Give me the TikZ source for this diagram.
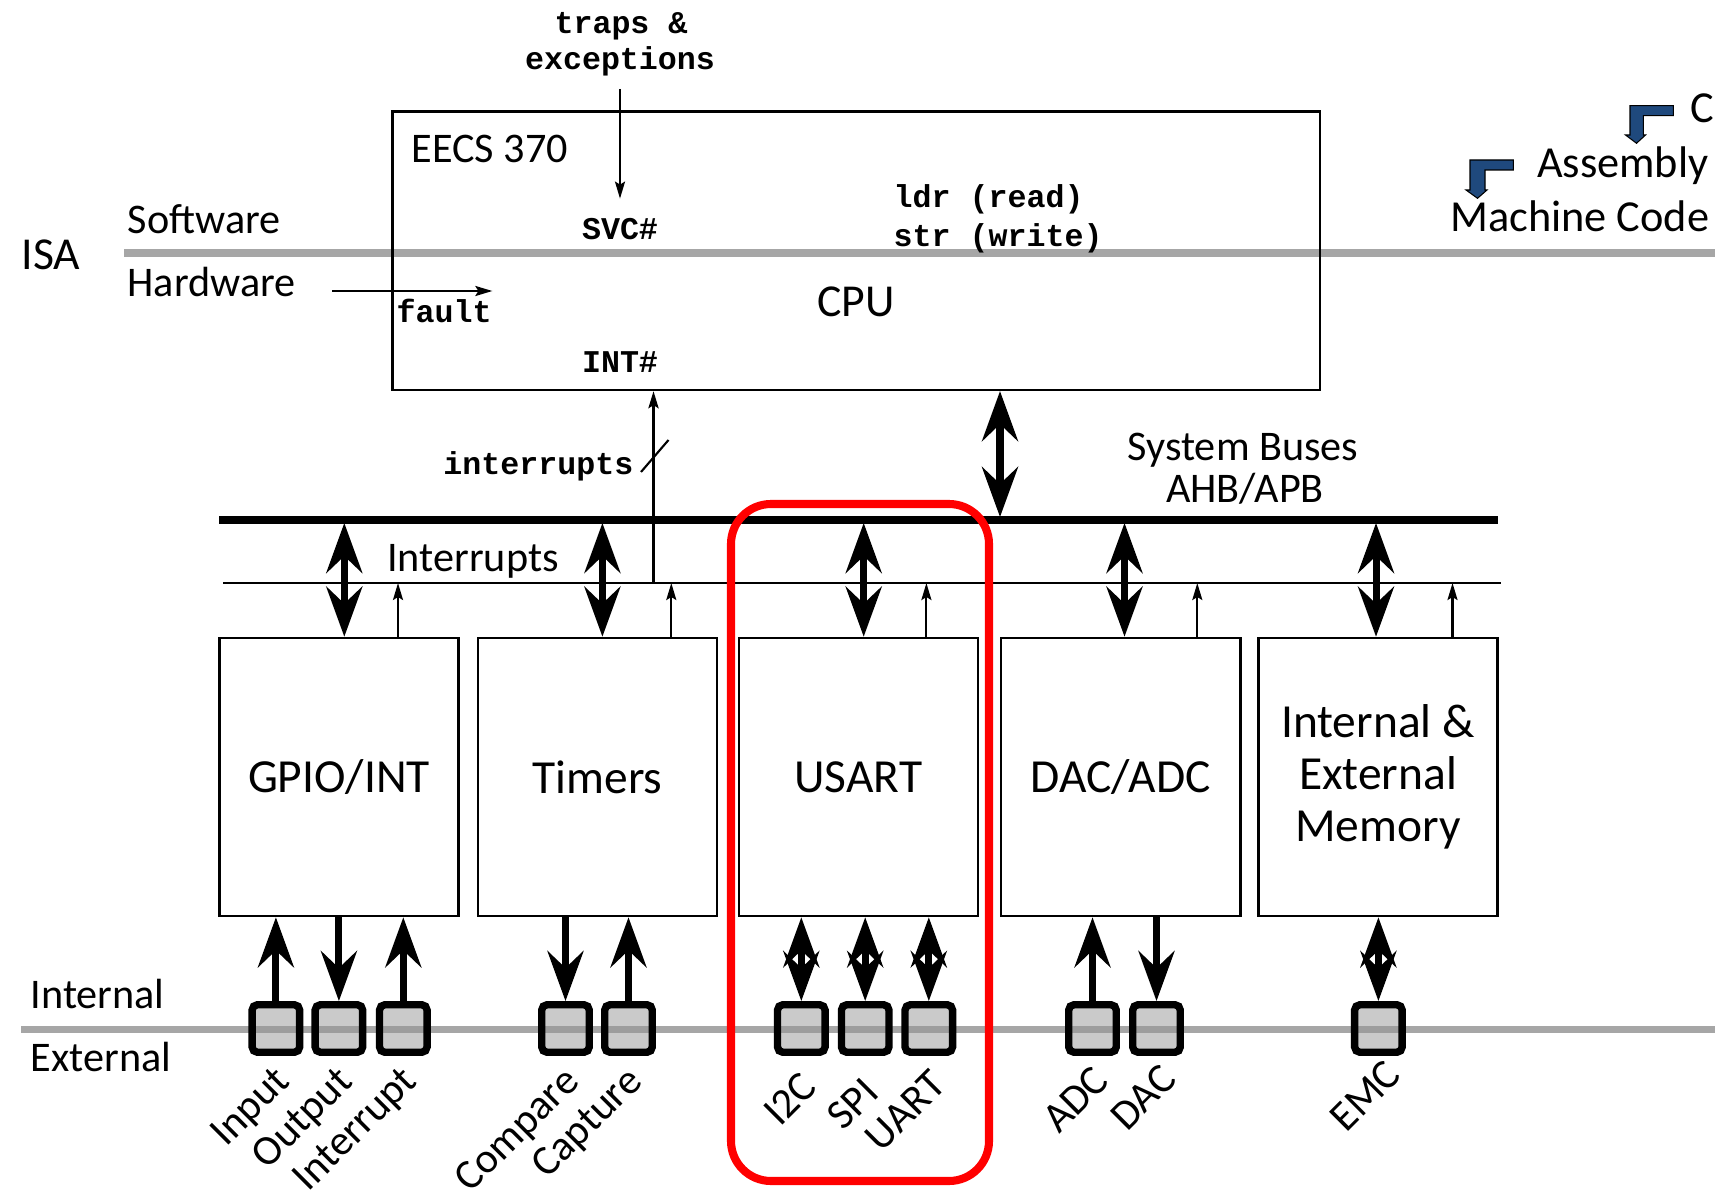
\documentclass[tikz,border=0pt]{standalone}
\usepackage{fontspec}
\setmainfont{Carlito}
\newfontfamily\codefont{Liberation Mono}
\usetikzlibrary{arrows.meta}

\definecolor{linegray}{RGB}{166,166,166}
\definecolor{padgray}{RGB}{150,150,150}
\definecolor{asmblue}{RGB}{31,73,125}

\begin{document}
\begin{tikzpicture}[x=0.01cm,y=-0.01cm,
    txt/.style={inner sep=0pt,font=\fontsize{12}{14}\selectfont},
    code/.style={inner sep=0pt,font=\codefont\bfseries\fontsize{9}{10.4}\selectfont},
    blk/.style={draw,line width=0.7pt,minimum width=2.39cm,minimum height=2.78cm,inner sep=0pt,align=center,font=\fontsize{13.5}{14.7}\selectfont},
    pad/.style={draw,line width=2.1pt,fill=padgray,fill opacity=0.5,minimum size=0.475cm,inner sep=0pt,rounded corners=1.5pt},
    padlbl/.style={inner sep=0pt,rotate=45,anchor=north east,font=\fontsize{12}{14}\selectfont},
    bigarr/.style={line width=2pt,>={Stealth[length=0.5cm,width=0.36cm,inset=0.17cm]}},
    thinarr/.style={line width=0.6pt,>={Stealth[length=0.17cm,width=0.1cm,inset=0.03cm]}},
    gline/.style={linegray,line width=2pt}]

    \clip (0,0) rectangle (1715,1191);

    \draw[gline] (124,253) -- (1715,253);
    \draw[gline] (21,1029.5) -- (1715,1029.5);

    \node[txt,anchor=base west,font=\fontsize{13}{15}\selectfont] (isa) at (21,270) {ISA};
    \node[txt,anchor=base west] (sw) at (127,233) {Software};
    \node[txt,anchor=base west] (hw) at (127,296.7) {Hardware};
    \node[txt,anchor=base west] (intl) at (30,1008.3) {Internal};
    \node[txt,anchor=base west] (extl) at (30,1071.7) {External};

    % C -> Assembly -> Machine Code
    \node[txt,anchor=base west,font=\fontsize{12.6}{14}\selectfont] (clang) at (1690,123) {C};
    \node[txt,anchor=base east,font=\fontsize{12.6}{14}\selectfont] (asm) at (1709,178) {Assembly};
    \node[txt,anchor=base east,font=\fontsize{12.6}{14}\selectfont] (mcode) at (1710,231.7) {Machine Code};
    \draw[fill=asmblue,line width=0.3pt] (1630,105.7) -- (1673.3,105.7) -- (1673.3,115.7) -- (1643.3,115.7)
        -- (1643.3,135) -- (1645.5,135) -- (1636.5,143.3) -- (1625.5,135) -- (1630,135) -- cycle;
    \draw[fill=asmblue,line width=0.3pt] (1470,160) -- (1513.3,160) -- (1513.3,170) -- (1485,170)
        -- (1485,190) -- (1487,190) -- (1477.5,198.3) -- (1466,190) -- (1470,190) -- cycle;

    \node[draw,line width=0.7pt,minimum width=9.27cm,minimum height=2.78cm,inner sep=0pt] (cpu) at (856.3,250.8) {};
    \node[txt,anchor=base west] (eecs) at (411,162.7) {EECS 370};
    \node[txt,anchor=base,font=\fontsize{13}{15}\selectfont] (cputxt) at (856,316.7) {CPU};

    \node[code,anchor=base] (traps) at (621,33.5) {traps \&};
    \node[code,anchor=base] (exc) at (620,69.5) {exceptions};
    \node[code,anchor=base] (svc) at (620,239.5) {SVC\#};
    \node[code,anchor=base] (intn) at (620,372.7) {INT\#};
    \node[code,anchor=base west] (fault) at (396,322) {fault};
    \node[code,anchor=base west] (ldr) at (893,207.3) {ldr (read)};
    \node[code,anchor=base west] (str) at (893,246) {str (write)};

    \draw[thinarr,->,shorten <=0.12cm,shorten >=0.19cm] (exc.south) -- (svc.north);
    \coordinate (fs) at (332,291);
    \draw[thinarr,->] (fs) -- (fs -| fault.east);

    % buses
    \coordinate (busL) at (219,520);
    \coordinate (busR) at (1498,520);
    \draw[line width=2.1pt] (busL) -- (busR);
    \coordinate (irqL) at (223,583);
    \coordinate (irqR) at (1501,583);
    \draw[line width=0.65pt] (irqL) -- (irqR);

    \node[txt,anchor=base west] (irqtxt) at (386.6,571) {Interrupts};
    \node[txt,anchor=base] (sysbus) at (1243,460) {System Buses};
    \node[txt,anchor=base] (ahb) at (1245,502.7) {AHB/APB};

    \coordinate (cb) at (1000,517);
    \draw[bigarr,<->] (cb |- cpu.south) -- (cb);

    \coordinate (iv) at (653.5,583);
    \draw[thinarr,->,line width=0.8pt] (iv) -- (iv |- cpu.south);
    \draw[line width=0.6pt] (641,472) -- (668.5,440);
    \node[code,anchor=base east] (irqlbl) at (634,474) {interrupts};

    % peripherals
    \node[blk] (gpio) at (339,777) {GPIO/INT};
    \node[blk] (tim) at (597.5,777) {Timers};
    \node[blk] (usart) at (858.3,777) {USART};
    \node[blk] (dac) at (1120.7,777) {DAC/ADC};
    \node[blk] (mem) at (1378,777) {Internal \&\\External\\Memory};

    \coordinate (b1) at (344.3,523);
    \coordinate (b2) at (602.4,523);
    \coordinate (b3) at (863.7,523);
    \coordinate (b4) at (1124.5,523);
    \coordinate (b5) at (1376,523);
    \draw[bigarr,<->] (b1) -- (b1 |- gpio.north);
    \draw[bigarr,<->] (b2) -- (b2 |- tim.north);
    \draw[bigarr,<->] (b3) -- (b3 |- usart.north);
    \draw[bigarr,<->] (b4) -- (b4 |- dac.north);
    \draw[bigarr,<->] (b5) -- (b5 |- mem.north);

    \coordinate (i1) at (398,583);
    \coordinate (i2) at (671.3,583);
    \coordinate (i3) at (926.4,583);
    \coordinate (i4) at (1197.3,583);
    \coordinate (i5) at (1452.5,583);
    \draw[thinarr,->] (i1 |- gpio.north) -- (i1);
    \draw[thinarr,->] (i2 |- tim.north) -- (i2);
    \draw[thinarr,->] (i3 |- usart.north) -- (i3);
    \draw[thinarr,->] (i4 |- dac.north) -- (i4);
    \draw[thinarr,->] (i5 |- mem.north) -- (i5);

    % pads
    \node[pad] (pin1) at (275.9,1028.5) {};
    \node[pad] (pin2) at (338.9,1028.5) {};
    \node[pad] (pin3) at (403.3,1028.5) {};
    \node[pad] (pin4) at (565.5,1028.5) {};
    \node[pad] (pin5) at (628.5,1028.5) {};
    \node[pad] (pin6) at (801.3,1028.5) {};
    \node[pad] (pin7) at (865.2,1028.5) {};
    \node[pad] (pin8) at (928.8,1028.5) {};
    \node[pad] (pin9) at (1092.5,1028.5) {};
    \node[pad] (pin10) at (1156.5,1028.5) {};
    \node[pad] (pin11) at (1378.4,1028.5) {};

    \draw[bigarr,->] (pin1.north) -- (pin1.north |- gpio.south);
    \draw[bigarr,->] (pin2.north |- gpio.south) -- (pin2.north);
    \draw[bigarr,->] (pin3.north) -- (pin3.north |- gpio.south);
    \draw[bigarr,->] (pin4.north |- tim.south) -- (pin4.north);
    \draw[bigarr,->] (pin5.north) -- (pin5.north |- tim.south);
    \draw[bigarr,<->] (pin6.north) -- (pin6.north |- usart.south);
    \draw[bigarr,<->] (pin7.north) -- (pin7.north |- usart.south);
    \draw[bigarr,<->] (pin8.north) -- (pin8.north |- usart.south);
    \draw[bigarr,->] (pin9.north) -- (pin9.north |- dac.south);
    \draw[bigarr,->] (pin10.north |- dac.south) -- (pin10.north);
    \draw[bigarr,<->] (pin11.north) -- (pin11.north |- mem.south);

    \node[padlbl] (lin) at ([shift={(-4,7)}]pin1.south) {Input};
    \node[padlbl] (lout) at ([shift={(-4,7)}]pin2.south) {Output};
    \node[padlbl] (lirq) at ([shift={(-4,7)}]pin3.south) {Interrupt};
    \node[padlbl] (lcmp) at ([shift={(-4,7)}]pin4.south) {Compare};
    \node[padlbl] (lcap) at ([shift={(-4,7)}]pin5.south) {Capture};
    \node[padlbl] (li2c) at ([shift={(-2,13)}]pin6.south) {I2C};
    \node[padlbl] (lspi) at ([shift={(-4,19)}]pin7.south) {SPI};
    \node[padlbl] (luart) at ([shift={(0,11)}]pin8.south) {UART};
    \node[padlbl] (ladc) at ([shift={(-1,7)}]pin9.south) {ADC};
    \node[padlbl] (ldac) at ([shift={(2,5)}]pin10.south) {DAC};
    \node[padlbl] (lemc) at ([shift={(5,1)}]pin11.south) {EMC};

    \draw[red,line width=2.3pt,rounded corners=0.4cm] (731,504) rectangle (989,1181);

\end{tikzpicture}
\end{document}
